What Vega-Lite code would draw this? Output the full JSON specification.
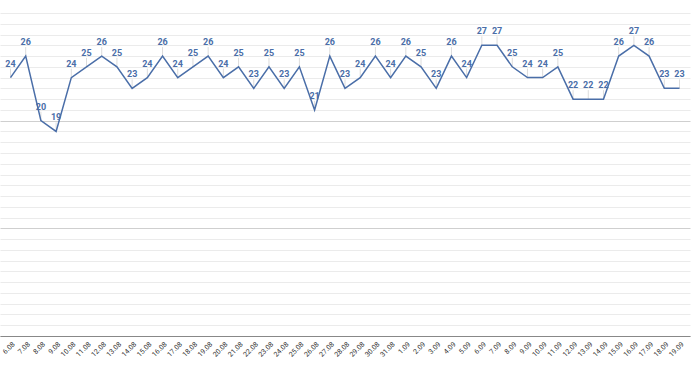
{
  "$schema": "https://vega.github.io/schema/vega-lite/v6.json",
  "width": 690,
  "height": 323,
  "autosize": "none",
  "padding": {"left": 0, "top": 13, "right": 10, "bottom": 35},
  "background": "white",
  "config": {"view": {"stroke": null}},
  "data": {"values": [
    {"d": "6.08", "v": 24}, {"d": "7.08", "v": 26}, {"d": "8.08", "v": 20}, {"d": "9.08", "v": 19},
    {"d": "10.08", "v": 24}, {"d": "11.08", "v": 25}, {"d": "12.08", "v": 26}, {"d": "13.08", "v": 25},
    {"d": "14.08", "v": 23}, {"d": "15.08", "v": 24}, {"d": "16.08", "v": 26}, {"d": "17.08", "v": 24},
    {"d": "18.08", "v": 25}, {"d": "19.08", "v": 26}, {"d": "20.08", "v": 24}, {"d": "21.08", "v": 25},
    {"d": "22.08", "v": 23}, {"d": "23.08", "v": 25}, {"d": "24.08", "v": 23}, {"d": "25.08", "v": 25},
    {"d": "26.08", "v": 21}, {"d": "27.08", "v": 26}, {"d": "28.08", "v": 23}, {"d": "29.08", "v": 24},
    {"d": "30.08", "v": 26}, {"d": "31.08", "v": 24}, {"d": "1.09", "v": 26}, {"d": "2.09", "v": 25},
    {"d": "3.09", "v": 23}, {"d": "4.09", "v": 26}, {"d": "5.09", "v": 24}, {"d": "6.09", "v": 27},
    {"d": "7.09", "v": 27}, {"d": "8.09", "v": 25}, {"d": "9.09", "v": 24}, {"d": "10.09", "v": 24},
    {"d": "11.09", "v": 25}, {"d": "12.09", "v": 22}, {"d": "13.09", "v": 22}, {"d": "14.09", "v": 22},
    {"d": "15.09", "v": 26}, {"d": "16.09", "v": 27}, {"d": "17.09", "v": 26}, {"d": "18.09", "v": 23},
    {"d": "19.09", "v": 23}
  ]},
  "encoding": {
    "x": {
      "field": "d", "type": "ordinal", "sort": null,
      "scale": {"type": "point", "padding": 0.69},
      "axis": {
        "title": null, "labelAngle": -45, "labelFontSize": 7, "labelColor": "#333",
        "labelFont": "Roboto", "ticks": false, "grid": false,
        "domainColor": "#888", "labelPadding": 4
      }
    },
    "y": {
      "field": "v", "type": "quantitative",
      "scale": {"domain": [0, 30], "nice": false, "zero": true},
      "axis": {
        "title": null, "labels": false, "ticks": false, "domain": false,
        "values": [0,1,2,3,4,5,6,7,8,9,10,11,12,13,14,15,16,17,18,19,20,21,22,23,24,25,26,27,28,29,30],
        "gridColor": {"condition": {"test": "datum.value % 10 === 0 && datum.value < 30", "value": "#cfcfcf"}, "value": "#ebebeb"},
        "gridWidth": 1
      }
    }
  },
  "layer": [
    {
      "mark": {"type": "rule", "color": "#dcdcdc", "strokeWidth": 1, "y2Offset": -9},
      "encoding": {"y2": {"field": "v"}}
    },
    {
      "mark": {"type": "line", "color": "#4a6ea8", "strokeWidth": 1.5}
    },
    {
      "mark": {"type": "text", "dy": -14, "fontSize": 9, "fontWeight": "bold", "font": "Roboto", "color": "#4a6ea8"},
      "encoding": {"text": {"field": "v", "type": "quantitative"}}
    }
  ]
}
